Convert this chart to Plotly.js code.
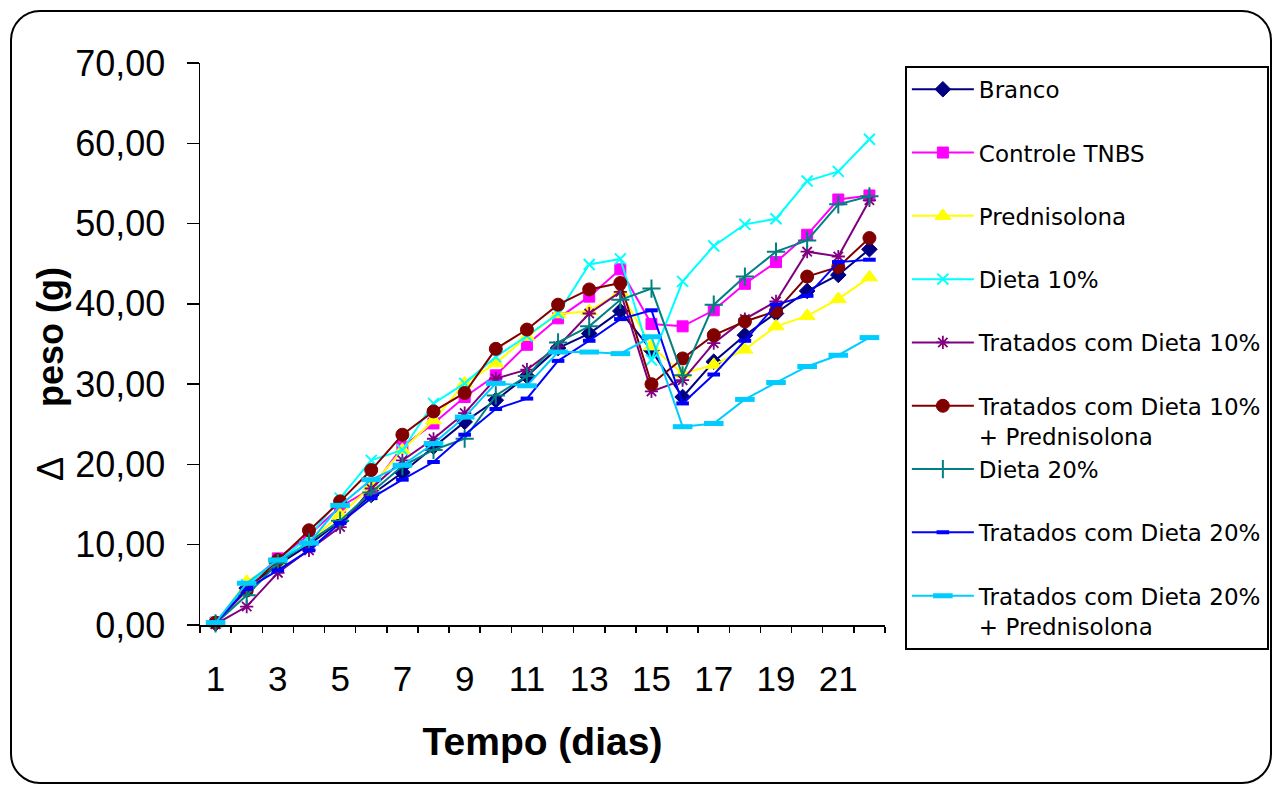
<!DOCTYPE html>
<html>
<head>
<meta charset="utf-8">
<script src="https://cdn.plot.ly/plotly-3.0.1.min.js"></script>
<style>
  html, body { margin: 0; padding: 0; background: #fff; }
  #wrap { position: relative; width: 1272px; height: 785px; }
  #chart { position: absolute; left: 0; top: 0; width: 1272px; height: 785px; }
  #frame { position: absolute; left: 10px; top: 10px; width: 1262px; height: 774px; box-sizing: border-box;
           border: 2px solid #000; border-radius: 30px; pointer-events: none; }
</style>
</head>
<body>
<div id="wrap">
  <div id="chart"></div>
  <div id="frame"></div>
</div>
<script>
// ---- data ----
const days = [1, 2, 3, 4, 5, 6, 7, 8, 9, 10, 11, 12, 13, 14, 15, 16, 17, 18, 19, 20, 21, 22];
const tickDays = [1, 3, 5, 7, 9, 11, 13, 15, 17, 19, 21];
const tickLabels = ['1', '3', '5', '7', '9', '11', '13', '15', '17', '19', '21'];

const branco       = [0.2, 4.6, 7.5, 10.0, 12.9, 16.2, 19.0, 22.2, 25.3, 28.0, 31.0, 34.5, 36.3, 39.1, 34.2, 28.4, 32.8, 36.1, 38.8, 41.6, 43.6, 46.8];
const controleTNBS = [0.3, 4.8, 8.3, 11.2, 14.7, 17.0, 22.2, 25.1, 28.4, 31.1, 34.9, 38.2, 40.9, 44.3, 37.5, 37.2, 39.2, 42.5, 45.2, 48.6, 53.0, 53.5];
const prednisolona = [0.2, 5.4, 7.8, 10.4, 13.7, 17.3, 21.8, 25.5, 30.1, 32.6, 35.9, 38.7, 39.1, 41.5, 34.7, 31.3, 32.4, 34.3, 37.2, 38.5, 40.6, 43.3];
const dieta10      = [0.3, 5.0, 7.9, 11.0, 15.8, 20.5, 21.8, 27.6, 30.1, 33.4, 36.0, 38.8, 44.9, 45.6, 33.0, 42.8, 47.2, 49.9, 50.6, 55.3, 56.5, 60.5];
const tratD10      = [0.1, 2.3, 6.5, 9.3, 12.2, 17.0, 20.5, 23.2, 26.4, 30.7, 31.8, 34.7, 38.8, 41.5, 29.1, 30.5, 35.1, 38.1, 40.3, 46.5, 45.9, 52.9];
const tratD10Pred  = [0.3, 4.3, 8.1, 11.8, 15.4, 19.3, 23.7, 26.6, 28.9, 34.4, 36.8, 39.9, 41.8, 42.6, 30.0, 33.2, 36.1, 37.8, 39.1, 43.4, 44.6, 48.2];
const dieta20      = [0.2, 3.7, 7.7, 10.3, 13.0, 16.5, 19.8, 21.8, 23.2, 28.6, 31.0, 35.2, 37.2, 40.5, 41.9, 31.1, 39.9, 43.4, 46.5, 47.9, 52.4, 53.4];
const tratD20      = [0.2, 4.5, 6.8, 9.3, 12.7, 15.8, 18.1, 20.3, 23.7, 26.9, 28.2, 32.9, 35.4, 38.1, 39.2, 27.6, 31.2, 35.4, 39.9, 41.0, 45.2, 45.5];
const tratD20Pred  = [0.3, 5.2, 8.1, 10.2, 14.9, 18.1, 19.9, 22.6, 25.9, 30.1, 29.8, 34.0, 34.0, 33.8, 35.9, 24.7, 25.1, 28.1, 30.2, 32.2, 33.6, 35.8];

const seriesNames = [
  'Branco',
  'Controle TNBS',
  'Prednisolona',
  'Dieta 10%',
  'Tratados com Dieta 10%',
  'Tratados com Dieta 10%<br>+ Prednisolona',
  'Dieta 20%',
  'Tratados com Dieta 20%',
  'Tratados com Dieta 20%<br>+ Prednisolona'
];
const seriesValues = [branco, controleTNBS, prednisolona, dieta10, tratD10, tratD10Pred, dieta20, tratD20, tratD20Pred];

// ---- styles ----
const styles = [
  {color: '#000080', symbol: 'diamond', size: 12, lw: 1},
  {color: '#FF00FF', symbol: 'square', size: 11, lw: 1},
  {color: '#FFFF00', symbol: 'triangle-up', size: 14, lw: 1},
  {color: '#00FFFF', symbol: 'x-thin-open', size: 11, lw: 2},
  {color: '#800080', symbol: 'asterisk-open', size: 11, lw: 1.8},
  {color: '#800000', symbol: 'circle', size: 13, lw: 1},
  {color: '#008080', symbol: 'cross-thin-open', size: 13, lw: 2},
  {color: '#0000FF', symbol: 'line-ew-open', size: 9, lw: 4},
  {color: '#00CCFF', symbol: 'line-ew-open', size: 14, lw: 5}
];

const traces = seriesNames.map((name, i) => {
  const s = styles[i];
  const label = name.includes('<br>') ? name : name + '<br>\u00A0';
  return {
    type: 'scatter',
    mode: 'lines+markers',
    x: days,
    y: seriesValues[i],
    name: label,
    legendgroup: 'g' + i,
    line: {color: s.color, width: 2},
    marker: {color: s.color, symbol: s.symbol, size: s.size, line: {color: s.color, width: s.lw}},
    cliponaxis: false
  };
});

const nb = (n) => '\u00A0'.repeat(n);

const layout = {
  width: 1272,
  height: 785,
  margin: {l: 200, r: 387, t: 63, b: 160, autoexpand: false},
  paper_bgcolor: 'rgba(0,0,0,0)',
  plot_bgcolor: 'white',
  separators: ',.',
  showlegend: true,
  legend: {
    x: 1.029, xanchor: 'left', y: 0.995, yanchor: 'top',
    bgcolor: 'white', bordercolor: 'black', borderwidth: 2,
    font: {family: 'DejaVu Sans', size: 23, color: '#000'},
    valign: 'top', traceorder: 'grouped', tracegroupgap: 0.5, itemwidth: 62,
    maxheight: 760
  },
  xaxis: {
    range: [0.5, 22.5],
    tickmode: 'array', tickvals: tickDays, ticktext: tickLabels,
    ticks: '', showgrid: false, zeroline: false,
    showline: true, linecolor: '#000', linewidth: 1.5,
    tickfont: {family: 'Liberation Sans', size: 35, color: '#000'},
    ticklabelstandoff: 22,
    minor: {tickmode: 'linear', tick0: 0.5, dtick: 1, ticks: 'outside', ticklen: 6, tickwidth: 1.5, tickcolor: '#000', showgrid: false},
    title: {text: 'Tempo (dias)', font: {family: 'Liberation Sans', size: 39, color: '#000', weight: 'bold'}, standoff: 31}
  },
  yaxis: {
    range: [0, 70], dtick: 10, tickformat: '.2f',
    ticks: 'outside', ticklen: 12, tickwidth: 1.5, tickcolor: '#000',
    showgrid: false, zeroline: false,
    showline: true, linecolor: '#000', linewidth: 1.5,
    tickfont: {family: 'Liberation Sans', size: 36, color: '#000'},
    ticklabelstandoff: 14,
    title: {text: 'Δ' + nb(5) + '<b>peso (g)</b>' + nb(6) + '\u200B', font: {family: 'Liberation Sans', size: 36, color: '#000'}, standoff: 0}
  }
};

Plotly.newPlot('chart', traces, layout, {displayModeBar: false, staticPlot: true});
</script>
</body>
</html>
